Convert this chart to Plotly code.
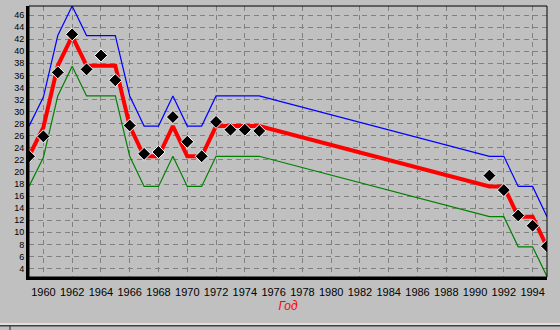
import plotly.graph_objects as go

# Fitted curve and its upper/lower bands (piecewise, by year)
fit_years = [1959, 1960, 1961, 1962, 1963, 1964, 1965, 1966, 1967, 1968, 1969,
             1970, 1971, 1972, 1973, 1974, 1975, 1991, 1992, 1993, 1994, 1995]
fit_mid = [22.6, 27.4, 37.6, 42.5, 37.6, 37.6, 37.6, 27.6, 22.6, 22.6, 27.6,
           22.6, 22.6, 27.6, 27.6, 27.6, 27.6, 17.6, 17.6, 12.6, 12.6, 7.6]
fit_upper = [27.6, 32.4, 42.6, 47.5, 42.6, 42.6, 42.6, 32.6, 27.6, 27.6, 32.6,
             27.6, 27.6, 32.6, 32.6, 32.6, 32.6, 22.6, 22.6, 17.6, 17.6, 12.6]
fit_lower = [17.6, 22.4, 32.6, 37.5, 32.6, 32.6, 32.6, 22.6, 17.6, 17.6, 22.6,
             17.6, 17.6, 22.6, 22.6, 22.6, 22.6, 12.6, 12.6, 7.6, 7.6, 2.7]

# Observed values
obs_years = [1959, 1960, 1961, 1962, 1963, 1964, 1965, 1966, 1967, 1968, 1969,
             1970, 1971, 1972, 1973, 1974, 1975, 1991, 1992, 1993, 1994, 1995]
obs_values = [22.6, 25.9, 36.5, 42.8, 37.0, 39.3, 35.2, 27.7, 23.0, 23.3, 29.1,
              25.0, 22.6, 28.3, 27.0, 27.0, 26.8, 19.4, 17.0, 12.8, 11.1, 7.7]

x_ticks = list(range(1960, 1995, 2))
y_ticks = list(range(4, 47, 2))

BG = "#c0c0c0"
W, H = 560, 330
L, R, T, B = 29, 13, 6, 53

fig = go.Figure()
fig.add_trace(go.Scatter(x=fit_years, y=fit_upper, mode="lines",
                         line=dict(color="#0000ff", width=1.2), hoverinfo="skip"))
fig.add_trace(go.Scatter(x=fit_years, y=fit_lower, mode="lines",
                         line=dict(color="#008000", width=1.2), hoverinfo="skip"))
fig.add_trace(go.Scatter(x=fit_years, y=fit_mid, mode="lines",
                         line=dict(color="#ff0000", width=4), hoverinfo="skip"))
fig.add_trace(go.Scatter(x=obs_years, y=obs_values, mode="markers",
                         marker=dict(symbol="diamond", size=10, color="black",
                                     line=dict(color="white", width=1))))

ph = H - T - B


def py(p):
    """pixel row -> paper y"""
    return (H - B - p) / ph


def px(p):
    """pixel column -> paper x"""
    return (p - L) / (W - L - R)


shapes = [
    # thin frame on top/right
    dict(type="rect", xref="paper", yref="paper", x0=0, x1=1, y0=0, y1=1,
         line=dict(color="black", width=1), layer="above"),
    # window frame lines below the chart
    dict(type="line", xref="paper", yref="paper", x0=px(0), x1=px(W),
         y0=py(324), y1=py(324), line=dict(color="white", width=1)),
    dict(type="line", xref="paper", yref="paper", x0=px(0), x1=px(W),
         y0=py(325.8), y1=py(325.8), line=dict(color="#404040", width=1.6)),
    dict(type="line", xref="paper", yref="paper", x0=px(10), x1=px(10),
         y0=py(326), y1=py(331), line=dict(color="#202020", width=1)),
]

fig.update_layout(
    width=W, height=H,
    margin=dict(l=L, r=R, t=T, b=B),
    paper_bgcolor=BG, plot_bgcolor=BG,
    showlegend=False,
    font=dict(family="Liberation Sans, Arial, sans-serif", color="black"),
    shapes=shapes,
    xaxis=dict(range=[1959, 1995], tickvals=x_ticks, ticktext=[str(v) for v in x_ticks],
               showgrid=True, gridcolor="#808080", griddash="5px,4px", gridwidth=1,
               showline=True, linecolor="black", linewidth=3, zeroline=False,
               ticks="", tickfont=dict(size=11), ticklabelstandoff=3,
               title=dict(text="<i>Год</i>", font=dict(color="#ff0000", size=12), standoff=5)),
    yaxis=dict(range=[2.6, 47.5], tickvals=y_ticks, ticktext=[str(v) for v in y_ticks],
               showgrid=True, gridcolor="#808080", griddash="5px,4px", gridwidth=1,
               showline=True, linecolor="black", linewidth=3, zeroline=False,
               ticks="", tickfont=dict(size=9)),
)

fig.write_html("out.html")
